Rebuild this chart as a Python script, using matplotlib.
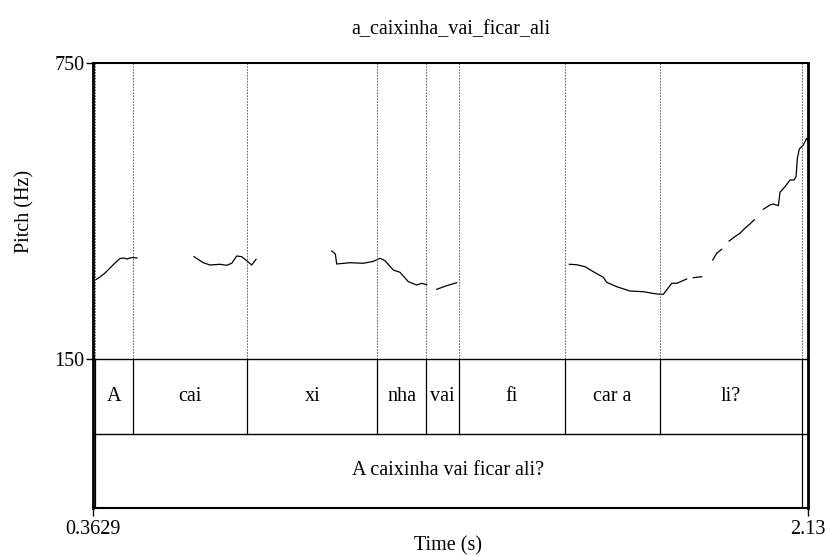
import numpy as np
import matplotlib
matplotlib.use("Agg")
import matplotlib.pyplot as plt

plt.rcParams['font.family'] = ['Liberation Serif', 'DejaVu Serif']
plt.rcParams['font.size'] = 14.5

title = "a_caixinha_vai_ficar_ali"
t_start = 0.3629
t_end = 2.13
f0_min = 150
f0_max = 750

# pitch contour (s, Hz), nan = unvoiced gap
pitch_time = [0.3703, 0.3802, 0.3926, 0.4049, 0.4173, 0.4296, 0.4395, 0.4469, 0.4543, 0.4618, 0.4716, np.nan,
              0.6125, 0.6249, 0.6355, 0.6521, 0.6768, 0.6933, 0.7057, 0.7181, 0.7304, 0.7428, 0.7551, 0.7658, np.nan,
              0.9529, 0.9618, 0.9652, 0.9981, 1.0310, 1.0557, 1.0722, 1.0846, 1.1051, 1.1217, 1.1422, 1.1629,
              1.1753, 1.1876, np.nan,
              1.2124, 1.2371, 1.2618, np.nan,
              1.5401, 1.5584, 1.5789, 1.5994, 1.6241, 1.6325, 1.6572, 1.6901, 1.7230, 1.7561, 1.7724, 1.7808,
              1.7932, 1.8055, 1.8302, np.nan,
              1.8466, 1.8673, np.nan,
              1.8945, 1.9044, 1.9168, np.nan,
              1.9350, 1.9491, 1.9615, 1.9738, 1.9862, 1.9973, np.nan,
              2.0195, 2.0360, 2.0443, 2.0567, 2.0608, 2.0731, 2.0855, 2.0954, 2.1004, 2.1037, 2.1086, 2.1184,
              2.1267, 2.1300]
pitch_hz = [311.1, 316.2, 324.3, 334.5, 344.6, 353.7, 354.7, 352.7, 354.7, 355.7, 354.7, np.nan,
            357.4, 350.7, 345.2, 340.5, 342.0, 339.9, 344.0, 358.8, 357.4, 349.3, 340.5, 352.1, np.nan,
            368.9, 362.8, 342.6, 345.2, 344.0, 348.0, 354.1, 349.3, 330.4, 325.7, 306.7, 300.0,
            303.4, 300.6, np.nan,
            291.3, 298.6, 304.7, np.nan,
            342.0, 341.1, 337.1, 327.0, 315.6, 305.5, 296.6, 287.8, 286.4, 281.8, 281.1, 289.9,
            303.4, 303.4, 312.2, np.nan,
            314.8, 316.8, np.nan,
            350.7, 364.3, 372.4, np.nan,
            389.1, 397.9, 404.6, 414.8, 423.5, 432.3, np.nan,
            453.4, 462.2, 464.2, 460.8, 487.8, 499.3, 512.8, 512.8, 519.5, 556.7, 575.6, 583.7,
            597.4, 590.6]

# tier 1: syllables
syl_bounds = [0.3678, 0.461, 0.744, 1.066, 1.185, 1.267, 1.530, 1.763, 2.115]
syl_labels = ["A", "cai", "xi", "nha", "vai", "fi", "car a", "li?"]
# tier 2: sentence
sent_bounds = [0.3678, 2.115]
sent_labels = ["A caixinha vai ficar ali?"]

fig = plt.figure(figsize=(8.28, 5.56), dpi=100)
W, H = 828, 556
left, right = 93, 808
top, mid, bot = 63, 359, 508

tax = fig.add_axes([left / W, 1 - bot / H, (right - left) / W, (bot - mid) / H])
ax = fig.add_axes([left / W, 1 - mid / H, (right - left) / W, (mid - top) / H], sharex=tax)
ax.patch.set_visible(False)
tax.patch.set_visible(False)

# pitch panel
ax.plot(pitch_time, pitch_hz, color='black', lw=0.9)
for b in syl_bounds:
    ax.axvline(b, color='0.3', lw=0.6, ls=(0, (2, 1.5)))
ax.set_xlim(t_start, t_end)
ax.set_ylim(f0_min, f0_max)
ax.set_yticks([f0_min, f0_max])
ax.set_yticklabels([str(f0_min), str(f0_max)])
ax.tick_params(axis='y', direction='out', length=5, width=1, pad=1)
ax.tick_params(axis='x', bottom=False, labelbottom=False)
ax.spines['left'].set_linewidth(2)
ax.spines['right'].set_linewidth(2)
ax.spines['top'].set_linewidth(1.5)
ax.spines['bottom'].set_linewidth(1)
ax.set_ylabel("Pitch (Hz)")
ax.yaxis.set_label_coords(-0.0825, 0.5)

# textgrid panel
tax.set_ylim(0, 2)
tax.axhline(1, color='black', lw=1)
for b in syl_bounds:
    tax.plot([b, b], [1, 2], color='black', lw=0.9)
for b in sent_bounds:
    tax.plot([b, b], [0, 1], color='black', lw=0.9)
for i, lab in enumerate(syl_labels):
    tax.text((syl_bounds[i] + syl_bounds[i + 1]) / 2, 1.5, lab, ha='center', va='center')
for i, lab in enumerate(sent_labels):
    tax.text((sent_bounds[i] + sent_bounds[i + 1]) / 2, 0.5, lab, ha='center', va='center')
tax.set_yticks([])
tax.set_xticks([t_start, t_end])
tax.set_xticklabels(["0.3629", "2.13"])
tax.tick_params(axis='x', direction='out', length=6, width=1, pad=3)
tax.spines['left'].set_linewidth(2)
tax.spines['right'].set_linewidth(2)
tax.spines['bottom'].set_linewidth(1.5)
tax.spines['top'].set_visible(False)
tax.set_xlabel("Time (s)")
tax.xaxis.set_label_coords(0.4965, -0.19)

fig.text(0.5441, 1 - 30 / H, title, ha='center', va='center')

fig.savefig("out.png", dpi=100)
